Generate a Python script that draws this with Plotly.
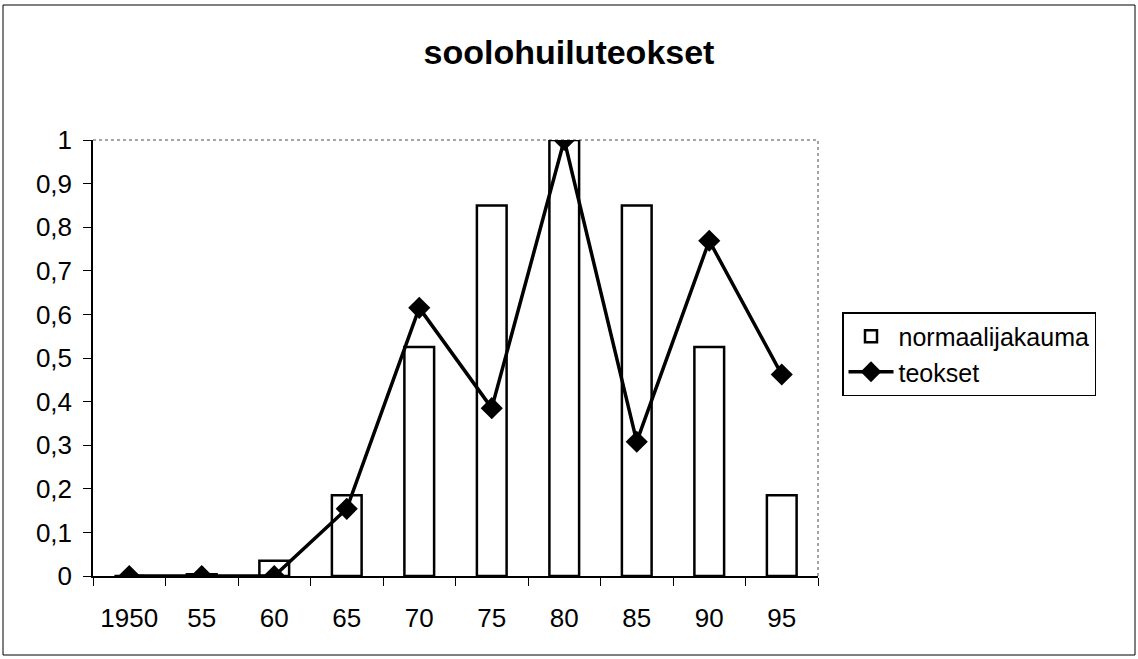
import plotly.graph_objects as go

# ==================================================
# DATA
# ==================================================
years = ["1950", "55", "60", "65", "70", "75", "80", "85", "90", "95"]
normaalijakauma = [0.0, 0.004, 0.035, 0.185, 0.525, 0.85, 1.0, 0.85, 0.525, 0.185]
teokset = [0.0, 0.0, 0.0, 0.154, 0.615, 0.385, 1.0, 0.308, 0.769, 0.462]
y_ticks = [0, 0.1, 0.2, 0.3, 0.4, 0.5, 0.6, 0.7, 0.8, 0.9, 1]

FONT = "Liberation Sans, Arial, sans-serif"

# plot-area geometry in pixels
W, H = 1138, 659
L, R, T, B = 93, 320, 140, 83
pw, ph = W - L - R, H - T - B


def px_x(x):
    return (x - L) / pw


def px_y(y):
    return (H - B - y) / ph


fig = go.Figure()

# -------------------
# Bars
# -------------------
fig.add_trace(go.Bar(
    x=years,
    y=normaalijakauma,
    name="normaalijakauma",
    marker=dict(color="white", line=dict(color="black", width=2.5)),
))

# -------------------
# Line
# -------------------
fig.add_trace(go.Scatter(
    x=years,
    y=teokset,
    name="teokset",
    mode="lines+markers",
    line=dict(color="black", width=3.5),
    marker=dict(symbol="diamond", size=17, color="black"),
))

# -------------------
# Layout
# -------------------
fig.update_layout(
    width=W,
    height=H,
    separators=", ",
    paper_bgcolor="white",
    plot_bgcolor="white",
    margin=dict(l=L, r=R, t=T, b=B),
    font=dict(family=FONT, size=26, color="black"),
    title=dict(
        text="<b>soolohuiluteokset</b>",
        x=0.5, xanchor="center",
        y=1 - 52 / H, yanchor="middle",
        font=dict(size=34, family=FONT, color="black"),
    ),
    bargap=0.59,
    showlegend=True,
    legend=dict(
        x=px_x(842), y=px_y(312),
        xanchor="left", yanchor="top",
        bordercolor="black", borderwidth=1.5,
        bgcolor="white",
        font=dict(size=25, family=FONT),
        itemwidth=45,
        tracegroupgap=0,
    ),
    xaxis=dict(
        type="category",
        range=[-0.5, len(years) - 0.5],
        showgrid=False,
        showline=True, linecolor="black", linewidth=1.5,
        ticks="outside", ticklen=8, tickcolor="black",
        tickson="boundaries",
        ticklabelstandoff=18,
        zeroline=False,
    ),
    yaxis=dict(
        range=[0, 1],
        tickvals=y_ticks,
        tickformat=".1~f",
        showgrid=False,
        showline=True, linecolor="black", linewidth=1.5,
        ticks="outside", ticklen=8, tickcolor="black",
        ticklabelstandoff=6,
        zeroline=False,
    ),
    shapes=[
        # dotted plot-area frame (top + right)
        dict(type="line", xref="paper", yref="paper", x0=0, x1=1, y0=1, y1=1,
             line=dict(color="#888888", width=1.5, dash="dot"), layer="below"),
        dict(type="line", xref="paper", yref="paper", x0=1, x1=1, y0=0, y1=1,
             line=dict(color="#888888", width=1.5, dash="dot"), layer="below"),
        # outer chart border
        dict(type="rect", xref="paper", yref="paper",
             x0=px_x(3), x1=px_x(1135), y0=px_y(655), y1=px_y(5),
             line=dict(color="black", width=1)),
    ],
)

fig.write_html("out.html", config={"displayModeBar": False},
               post_script="document.body.style.margin='0';")
